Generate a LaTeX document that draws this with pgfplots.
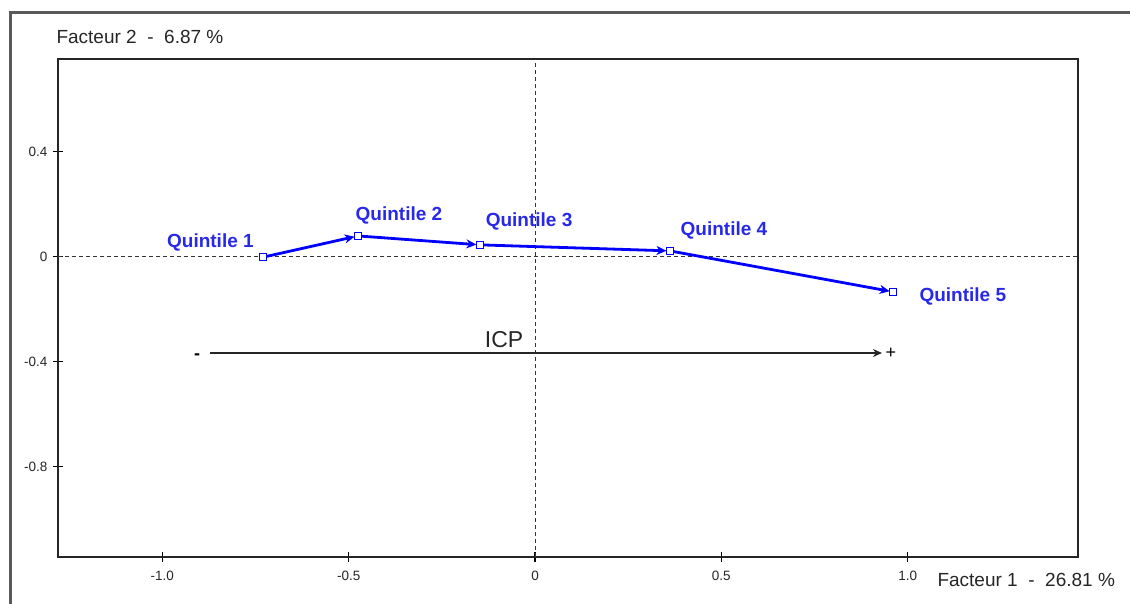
\documentclass[border=0pt]{standalone}
\usepackage{fontspec}
\setmainfont{Liberation Sans}
\usepackage{pgfplots}
\pgfplotsset{compat=1.18}
\usetikzlibrary{arrows.meta}
\definecolor{qline}{RGB}{0,0,255}
\definecolor{qlab}{RGB}{40,40,235}
\definecolor{frame}{RGB}{90,90,90}
\begin{document}
\begin{tikzpicture}[x=1pt,y=1pt]
\useasboundingbox (0,0) rectangle (1130,604);
\draw[frame, line width=3pt] (10,-2) -- (10,591) -- (1132,591);
\begin{axis}[
  at={(58pt,47pt)}, anchor=south west,
  scale only axis, width=1020pt, height=498pt,
  xmin=-1.28, xmax=1.457, ymin=-1.144, ymax=0.753,
  axis line style={black!85, line width=1.6pt},
  xtick={-1,-0.5,0,0.5,1}, xticklabels={-1.0,-0.5,0,0.5,1.0},
  ytick={0.4,0,-0.4,-0.8}, yticklabels={0.4,0,-0.4,-0.8},
  xtick pos=bottom, ytick pos=left,
  tick align=center, major tick length=10pt,
  tick style={black, line width=1.4pt},
  tick label style={font=\fontsize{13.5}{15}\selectfont, text=black!85},
  xticklabel style={yshift=-6pt},
  yticklabel style={xshift=-2pt},
  clip=false,
]
% reference dashed axes
\draw[black!80, line width=1pt, dash pattern=on 4pt off 3pt] (axis cs:0,-1.144) -- (axis cs:0,0.753);
\draw[black!80, line width=1pt, dash pattern=on 4pt off 3pt] (axis cs:-1.28,0) -- (axis cs:1.457,0);
% trajectory segments
\addplot[qline, line width=2.8pt, -{Stealth[length=10pt,width=9pt]}, shorten >=3.5pt] coordinates {(-0.730,-0.002) (-0.475,0.079)};
\addplot[qline, line width=2.8pt, -{Stealth[length=10pt,width=9pt]}, shorten >=3.5pt] coordinates {(-0.475,0.079) (-0.148,0.045)};
\addplot[qline, line width=2.8pt, -{Stealth[length=10pt,width=9pt]}, shorten >=3.5pt] coordinates {(-0.148,0.045) (0.362,0.022)};
\addplot[qline, line width=2.8pt, -{Stealth[length=10pt,width=9pt]}, shorten >=3.5pt] coordinates {(0.362,0.022) (0.961,-0.134)};
\addplot[only marks, mark=square*, mark size=3.5pt, mark options={fill=white, draw=qline, line width=1pt}] coordinates {(-0.730,-0.002) (-0.475,0.079) (-0.148,0.045) (0.362,0.022) (0.961,-0.134)};
% labels
\node[qlab, font=\bfseries\fontsize{19}{21}\selectfont] at (axis cs:-0.871,0.053) {Quintile 1};
\node[qlab, font=\bfseries\fontsize{19}{21}\selectfont] at (axis cs:-0.365,0.158) {Quintile 2};
\node[qlab, font=\bfseries\fontsize{19}{21}\selectfont] at (axis cs:-0.016,0.135) {Quintile 3};
\node[qlab, font=\bfseries\fontsize{19}{21}\selectfont] at (axis cs:0.507,0.101) {Quintile 4};
\node[qlab, font=\bfseries\fontsize{19}{21}\selectfont] at (axis cs:1.148,-0.150) {Quintile 5};
% ICP arrow
\addplot[black!85, line width=1.5pt, -{Stealth[length=9pt,width=8pt]}] coordinates {(-0.872,-0.367) (0.931,-0.367)};
\node[font=\bfseries\fontsize{18}{20}\selectfont] at (axis cs:-0.907,-0.380) {-};
\node[font=\fontsize{18}{20}\selectfont] at (axis cs:0.955,-0.370) {+};
\node[black!85, font=\fontsize{23}{25}\selectfont] at (axis cs:-0.083,-0.317) {ICP};
\end{axis}
\node[anchor=west, black!85, font=\fontsize{19}{21}\selectfont] at (53,567) {Facteur 2~~-~~6.87~\%};
\node[anchor=west, black!85, font=\fontsize{19}{21}\selectfont] at (934,24) {Facteur 1~~-~~26.81~\%};
\end{tikzpicture}
\end{document}
